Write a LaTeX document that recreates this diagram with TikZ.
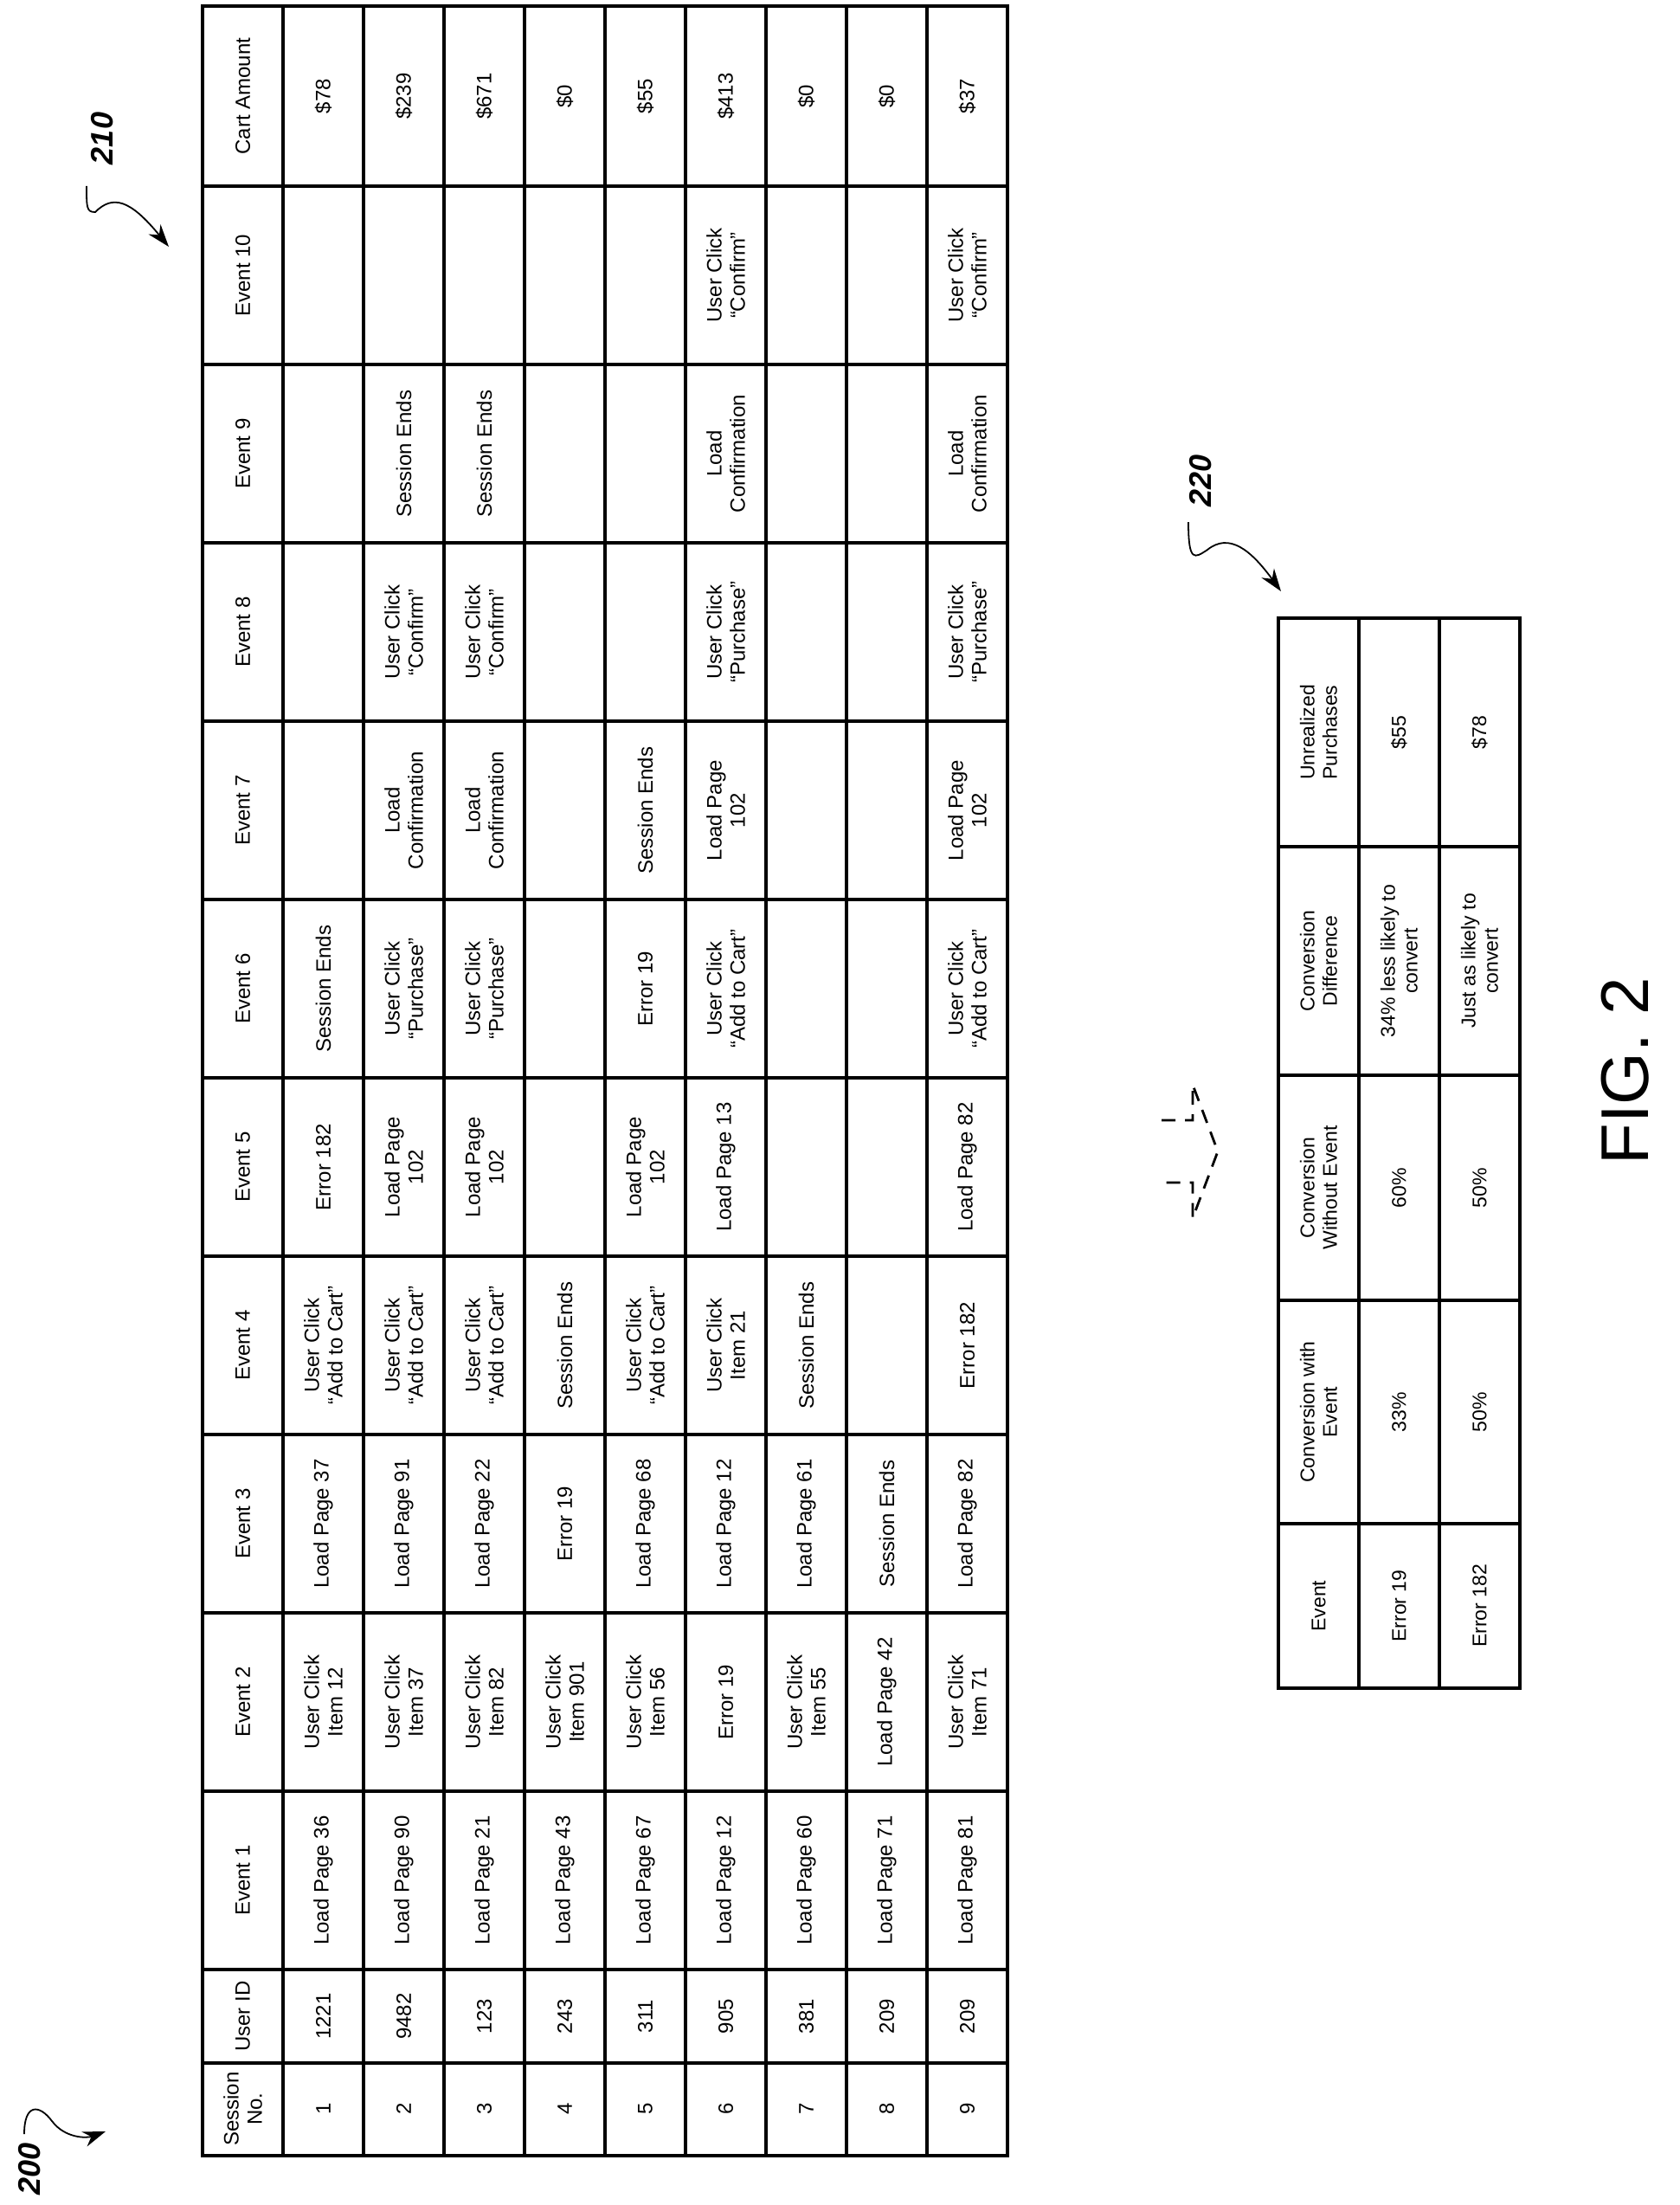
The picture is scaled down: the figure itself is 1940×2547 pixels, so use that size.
\documentclass[tikz,border=0pt]{standalone}
\usepackage{fontspec}
\setmainfont{Liberation Sans}
\usetikzlibrary{arrows.meta}
\begin{document}
\begin{tikzpicture}[x=1pt,y=-1pt,
  cell/.style={rotate=90,align=center,font=\fontsize{24}{27}\selectfont,inner sep=0pt},
  scell/.style={rotate=90,align=center,font=\fontsize{23}{26}\selectfont,inner sep=0pt},
  grid/.style={line width=4.5pt,line cap=rect},
  refl/.style={rotate=90,font=\fontsize{36}{40}\selectfont\bfseries\itshape},
  lead/.style={line width=1.8pt,-{Stealth[length=26pt,width=18pt]}}]
\useasboundingbox (0,0) rectangle (1940,2547);
% big table grid
\foreach \x in {234,327,420,513,606,699,792,885,978,1071,1164} \draw[grid] (\x,7) -- (\x,2490);
\foreach \y in {7,215,421,627,833,1039,1245,1451,1657,1863,2069,2275,2383,2490} \draw[grid] (234,\y) -- (1164,\y);
\def\ycs{{2436,2329,2172,1966,1760,1554,1348,1142,936,730,524,318,111}}
\newcommand\tabrow[2]{%
  \foreach [count=\j from 0] \t in {#2} {%
    \pgfmathsetmacro\yy{\ycs[\j]}%
    \node[cell] (c#1-\j) at ({280.5+93*#1},\yy) {\t};}}
\tabrow{0}{{Session\\No.},User ID,Event 1,Event 2,Event 3,Event 4,Event 5,Event 6,Event 7,Event 8,Event 9,Event 10,Cart Amount}
\tabrow{1}{1,1221,Load Page 36,{User Click\\Item 12},Load Page 37,{User Click\\“Add to Cart”},Error 182,Session Ends,{},{},{},{},\$78}
\tabrow{2}{2,9482,Load Page 90,{User Click\\Item 37},Load Page 91,{User Click\\“Add to Cart”},{Load Page\\102},{User Click\\“Purchase”},{Load\\Confirmation},{User Click\\“Confirm”},Session Ends,{},\$239}
\tabrow{3}{3,123,Load Page 21,{User Click\\Item 82},Load Page 22,{User Click\\“Add to Cart”},{Load Page\\102},{User Click\\“Purchase”},{Load\\Confirmation},{User Click\\“Confirm”},Session Ends,{},\$671}
\tabrow{4}{4,243,Load Page 43,{User Click\\Item 901},Error 19,Session Ends,{},{},{},{},{},{},\$0}
\tabrow{5}{5,311,Load Page 67,{User Click\\Item 56},Load Page 68,{User Click\\“Add to Cart”},{Load Page\\102},Error 19,Session Ends,{},{},{},\$55}
\tabrow{6}{6,905,Load Page 12,Error 19,Load Page 12,{User Click\\Item 21},Load Page 13,{User Click\\“Add to Cart”},{Load Page\\102},{User Click\\“Purchase”},{Load\\Confirmation},{User Click\\“Confirm”},\$413}
\tabrow{7}{7,381,Load Page 60,{User Click\\Item 55},Load Page 61,Session Ends,{},{},{},{},{},{},\$0}
\tabrow{8}{8,209,Load Page 71,Load Page 42,Session Ends,{},{},{},{},{},{},{},\$0}
\tabrow{9}{9,209,Load Page 81,{User Click\\Item 71},Load Page 82,Error 182,Load Page 82,{User Click\\“Add to Cart”},{Load Page\\102},{User Click\\“Purchase”},{Load\\Confirmation},{User Click\\“Confirm”},\$37}
% small table
\foreach \x in {1477,1570,1663,1756} \draw[grid] (\x,714) -- (\x,1950);
\foreach \y in {714,978,1242,1502,1760,1950} \draw[grid] (1477,\y) -- (1756,\y);
\def\scs{{1855,1631,1372,1110,846}}
\newcommand\srow[2]{%
  \foreach [count=\j from 0] \t in {#2} {%
    \pgfmathsetmacro\yy{\scs[\j]}%
    \node[scell] (s#1-\j) at ({1523.5+93*#1},\yy) {\t};}}
\srow{0}{Event,{Conversion with\\Event},{Conversion\\Without Event},{Conversion\\Difference},{Unrealized\\Purchases}}
\srow{1}{Error 19,33\%,60\%,{34\% less likely to\\convert},\$55}
\srow{2}{Error 182,50\%,50\%,{Just as likely to\\convert},\$78}
% dashed arrow
\draw[line width=2.8pt,dash pattern=on 16pt off 11pt] (1342,1294) -- (1378,1294) -- (1378,1253) -- (1407,1330) -- (1378,1407) -- (1378,1366) -- (1342,1366);
% fig label
\node[rotate=90,font=\fontsize{78}{80}\selectfont] (fig) at (1878,1237) {FIG. 2};
% reference labels
\node[refl] (r200) at (34,2505) {200};
\coordinate (t200) at (122,2462);
\draw[lead] (28,2465) .. controls (28,2430) and (45,2430) .. (60,2450) .. controls (75,2470) and (100,2470) .. (t200);
\node[refl] (r210) at (118,160) {210};
\coordinate (t210) at (195,285);
\draw[lead] (100,215) .. controls (100,240) and (100,245) .. (110,245) .. controls (130,225) and (150,230) .. (t210);
\node[refl] (r220) at (1387,555) {220};
\coordinate (t220) at (1480,683);
\draw[lead] (1373,603) .. controls (1373,650) and (1380,645) .. (1395,635) .. controls (1420,615) and (1445,635) .. (t220);
\end{tikzpicture}
\end{document}
